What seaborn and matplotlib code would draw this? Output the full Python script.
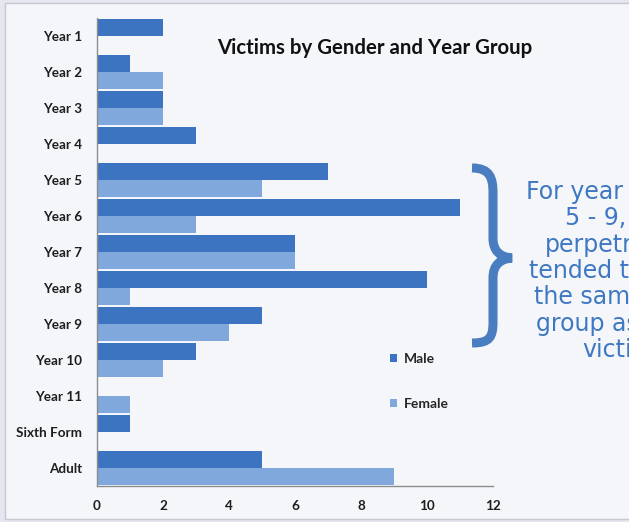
import pandas as pd
import matplotlib
matplotlib.use("Agg")
import matplotlib.pyplot as plt
import seaborn as sns
from matplotlib.path import Path
from matplotlib.patches import PathPatch, Rectangle
from matplotlib.transforms import Affine2D

# ==============================================================================
# DADOS
# ==============================================================================
grupos = ["Year 1", "Year 2", "Year 3", "Year 4", "Year 5", "Year 6", "Year 7",
          "Year 8", "Year 9", "Year 10", "Year 11", "Sixth Form", "Adult"]
vitimas_male = [2, 1, 2, 3, 7, 11, 6, 10, 5, 3, 0, 1, 5]
vitimas_female = [0, 2, 2, 0, 5, 3, 6, 1, 4, 2, 1, 0, 9]
ticks_x = [0, 2, 4, 6, 8, 10, 12]

titulo = "Victims by Gender and Year Group"
nota = ("For year groups\n5 - 9, the\nperpetrators\ntended to be in\n"
        "the same year\ngroup as their\nvictim")

cores = {"Male": "#3d74c1", "Female": "#80a8dc"}

# ==============================================================================
# ESTILO
# ==============================================================================
sns.set_theme(style="white")
plt.rcParams["font.family"] = ["Lato", "DejaVu Sans"]

W, H = 629, 522
fig = plt.figure(figsize=(W / 100, H / 100), dpi=100, facecolor="#e4e7ee")

# transformacao pixel (y para baixo) -> figura
px = Affine2D().scale(1 / W, -1 / H).translate(0, 1) + fig.transFigure

fig.patches.append(Rectangle((5, 3), 640, 516, transform=px,
                             facecolor="#f4f6fa", edgecolor="#c3c8d1",
                             linewidth=1.0, zorder=-5))

ax = fig.add_axes([97 / W, 36 / H, 396 / W, 468 / H])
ax.set_facecolor("none")

df = pd.DataFrame({
    "grupo": grupos * 2,
    "genero": ["Male"] * len(grupos) + ["Female"] * len(grupos),
    "vitimas": vitimas_male + vitimas_female,
})

sns.barplot(data=df, y="grupo", x="vitimas", hue="genero", orient="h",
            hue_order=["Male", "Female"], palette=cores, saturation=1,
            width=0.97, edgecolor="none", ax=ax)

ax.set_xlim(0, 12)
ax.set_xticks(ticks_x)
ax.set_xlabel("")
ax.set_ylabel("")
for s in ["top", "right"]:
    ax.spines[s].set_visible(False)
for s in ["left", "bottom"]:
    ax.spines[s].set_color("#8c8c8c")
    ax.spines[s].set_linewidth(1.0)
ax.tick_params(axis="y", length=0, pad=11, labelsize=9.7, labelcolor="#1e1e1e")
ax.tick_params(axis="x", length=0, pad=10, labelsize=9.7, labelcolor="#1e1e1e")
for lbl in ax.get_xticklabels() + ax.get_yticklabels():
    lbl.set_fontweight("bold")

handles, labels = ax.get_legend_handles_labels()
ax.legend(handles, labels, loc="upper left", bbox_to_anchor=(383 / W, 1 - 346 / H),
          bbox_transform=fig.transFigure, frameon=False, borderpad=0,
          handlelength=0.5, handleheight=0.5, handletextpad=0.5,
          labelspacing=2.4, prop={"family": "Lato", "weight": "bold", "size": 10})

fig.text(375 / W, 1 - 48 / H, titulo, ha="center", va="center",
         fontsize=14.7, fontweight="bold", color="#111111")

# chave azul
verts = [(472, 168), (490, 168), (493, 178), (493, 193),
         (493, 238),
         (493, 251), (500, 257), (512, 258),
         (500, 259), (493, 265), (493, 278),
         (493, 322),
         (493, 337), (490, 343), (472, 343)]
codes = [Path.MOVETO, Path.CURVE4, Path.CURVE4, Path.CURVE4,
         Path.LINETO,
         Path.CURVE4, Path.CURVE4, Path.CURVE4,
         Path.CURVE4, Path.CURVE4, Path.CURVE4,
         Path.LINETO,
         Path.CURVE4, Path.CURVE4, Path.CURVE4]
fig.patches.append(PathPatch(Path(verts, codes), transform=px, facecolor="none",
                             edgecolor="#4a7dc0", linewidth=6.5, capstyle="butt"))

fig.text(619 / W, 1 - 271 / H, nota, ha="center", va="center", fontsize=17,
         family=["DejaVu Sans"], color="#3f78c2", linespacing=1.12)

fig.savefig("out.png", dpi=100, facecolor=fig.get_facecolor())
